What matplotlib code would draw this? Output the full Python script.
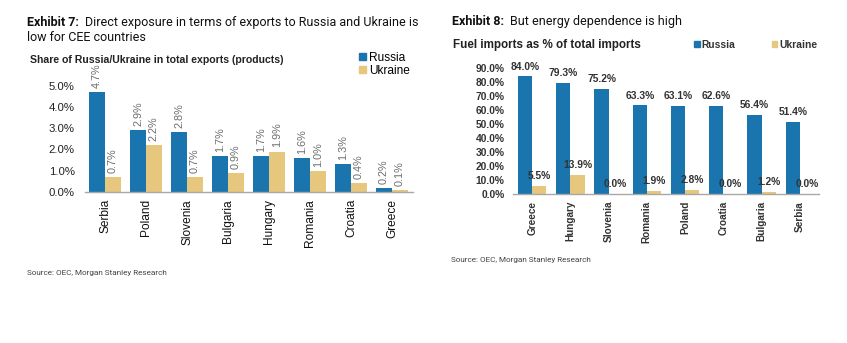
import matplotlib
matplotlib.use("Agg")
import matplotlib.pyplot as plt
from matplotlib.patches import Patch
import numpy as np

# ---- data -------------------------------------------------------------
export_countries = ["Serbia", "Poland", "Slovenia", "Bulgaria", "Hungary",
                    "Romania", "Croatia", "Greece"]
export_russia = [4.7, 2.9, 2.8, 1.7, 1.7, 1.6, 1.3, 0.2]
export_ukraine = [0.7, 2.2, 0.7, 0.9, 1.9, 1.0, 0.4, 0.1]
export_ticks = [0.0, 1.0, 2.0, 3.0, 4.0, 5.0]

fuel_countries = ["Greece", "Hungary", "Slovenia", "Romania", "Poland",
                  "Croatia", "Bulgaria", "Serbia"]
fuel_russia = [84.0, 79.3, 75.2, 63.3, 63.1, 62.6, 56.4, 51.4]
fuel_ukraine = [5.5, 13.9, 0.0, 1.9, 2.8, 0.0, 1.2, 0.0]
fuel_ticks = [0, 10, 20, 30, 40, 50, 60, 70, 80, 90]

series_names = ["Russia", "Ukraine"]

# ---- style ------------------------------------------------------------
BLUE = "#1a74ae"
TAN = "#e6c77d"
CHART_FONT = ["Liberation Sans", "DejaVu Sans"]
HEAD_FONT = ["Roboto", "DejaVu Sans"]
HEAD_SIZE = 9.0

W, H = 847, 343
fig = plt.figure(figsize=(W / 100, H / 100), dpi=100)


def px_axes(left, top, right, bottom):
    return fig.add_axes([left / W, 1 - bottom / H, (right - left) / W, (bottom - top) / H])


def fx(x):
    return x / W


def fy(y):
    return 1 - y / H


def heading(x, y, bold_part, rest):
    t = fig.text(fx(x), fy(y), bold_part, fontsize=HEAD_SIZE, fontweight="bold",
                 family=HEAD_FONT, va="baseline", ha="left", color="#111111")
    fig.canvas.draw()
    bb = t.get_window_extent()
    fig.text(bb.x1 / W + 6 / W, fy(y), rest, fontsize=HEAD_SIZE, family=HEAD_FONT,
             va="baseline", ha="left", color="#111111")


# ---- Exhibit 7: exports ------------------------------------------------
ax1 = px_axes(84.5, 75, 412.5, 192)
x = np.arange(len(export_countries))
bw = 0.39
b1 = ax1.bar(x - bw / 2, export_russia, bw, color=BLUE, label=series_names[0])
b2 = ax1.bar(x + bw / 2, export_ukraine, bw, color=TAN, label=series_names[1])
for bars, vals in ((b1, export_russia), (b2, export_ukraine)):
    for r, v in zip(bars, vals):
        ax1.annotate(f"{v:.1f}%", (r.get_x() + r.get_width() / 2, v),
                     xytext=(0, 3), textcoords="offset points", rotation=90,
                     ha="center", va="bottom", fontsize=7.8, color="#6e6e6e",
                     family=CHART_FONT, annotation_clip=False)
ax1.set_xlim(-0.5, len(export_countries) - 0.5)
ax1.set_ylim(0, 5.5)
ax1.set_yticks(export_ticks)
ax1.set_yticklabels([f"{t:.1f}%" for t in export_ticks], family=CHART_FONT,
                    fontsize=8.2, color="#222222")
ax1.set_xticks(x)
ax1.set_xticklabels(export_countries, rotation=90, family=CHART_FONT,
                    fontsize=8.6, color="#111111")
ax1.tick_params(axis="y", length=0, pad=7)
ax1.tick_params(axis="x", length=0, pad=5)
for s in ("top", "right", "left"):
    ax1.spines[s].set_visible(False)
ax1.spines["bottom"].set_color("#a8a8a8")
ax1.spines["bottom"].set_linewidth(1.0)

leg1 = fig.legend(handles=[Patch(color=BLUE, label=series_names[0]),
                           Patch(color=TAN, label=series_names[1])],
                  loc="upper left", bbox_to_anchor=(fx(359), fy(52)),
                  frameon=False, handlelength=0.55, handleheight=0.55,
                  handletextpad=0.3, labelspacing=0.05, borderpad=0,
                  borderaxespad=0, prop={"family": CHART_FONT, "size": 8.6})

heading(27, 26, "Exhibit 7:", "Direct exposure in terms of exports to Russia and Ukraine is")
fig.text(fx(27), fy(41), "low for CEE countries", fontsize=HEAD_SIZE, family=HEAD_FONT,
         va="baseline", ha="left", color="#111111")
fig.text(fx(30), fy(60), "Share of Russia/Ukraine in total exports (products)",
         fontsize=7.6, fontweight="bold", family=CHART_FONT, va="center",
         ha="left", color="#222222")
fig.text(fx(27), fy(273), "Source: OEC, Morgan Stanley Research", fontsize=5.9,
         family=HEAD_FONT, va="center", ha="left", color="#444444")

# ---- Exhibit 8: fuel imports -------------------------------------------
ax2 = px_axes(513, 68, 819, 194)
x2 = np.arange(len(fuel_countries))
bw2 = 0.37
c1 = ax2.bar(x2 - bw2 / 2, fuel_russia, bw2, color=BLUE, label=series_names[0])
c2 = ax2.bar(x2 + bw2 / 2, fuel_ukraine, bw2, color=TAN, label=series_names[1])
for bars, vals in ((c1, fuel_russia), (c2, fuel_ukraine)):
    for r, v in zip(bars, vals):
        ax2.annotate(f"{v:.1f}%", (r.get_x() + r.get_width() / 2, v),
                     xytext=(0, 3.5), textcoords="offset points",
                     ha="center", va="bottom", fontsize=7.4, fontweight="bold",
                     color="#333333", family=CHART_FONT, annotation_clip=False)
ax2.set_xlim(-0.5, len(fuel_countries) - 0.5)
ax2.set_ylim(0, 90)
ax2.set_yticks(fuel_ticks)
ax2.set_yticklabels([f"{t:.1f}%" for t in fuel_ticks], family=CHART_FONT,
                    fontsize=7.4, fontweight="bold", color="#333333")
ax2.set_xticks(x2)
ax2.set_xticklabels(fuel_countries, rotation=90, family=CHART_FONT,
                    fontsize=7.2, fontweight="bold", color="#333333")
ax2.tick_params(axis="y", length=0, pad=6)
ax2.tick_params(axis="x", length=0, pad=5)
for s in ("top", "right", "left"):
    ax2.spines[s].set_visible(False)
ax2.spines["bottom"].set_color("#a8a8a8")
ax2.spines["bottom"].set_linewidth(1.0)

leg2 = fig.legend(handles=[Patch(color=BLUE, label=series_names[0]),
                           Patch(color=TAN, label=series_names[1])],
                  loc="upper left", bbox_to_anchor=(fx(694), fy(40)), ncol=2,
                  frameon=False, handlelength=0.55, handleheight=0.55,
                  handletextpad=0.2, columnspacing=3.5, borderpad=0,
                  borderaxespad=0,
                  prop={"family": CHART_FONT, "size": 7.4, "weight": "bold"})
for t in leg2.get_texts():
    t.set_color("#333333")

heading(452, 25, "Exhibit 8:", "But energy dependence is high")
fig.text(fx(453), fy(45), "Fuel imports as % of total imports", fontsize=8.4,
         fontweight="bold", family=CHART_FONT, va="center", ha="left",
         color="#222222")
fig.text(fx(451), fy(260), "Source: OEC, Morgan Stanley Research", fontsize=5.9,
         family=HEAD_FONT, va="center", ha="left", color="#444444")

fig.savefig("out.png", dpi=100)
